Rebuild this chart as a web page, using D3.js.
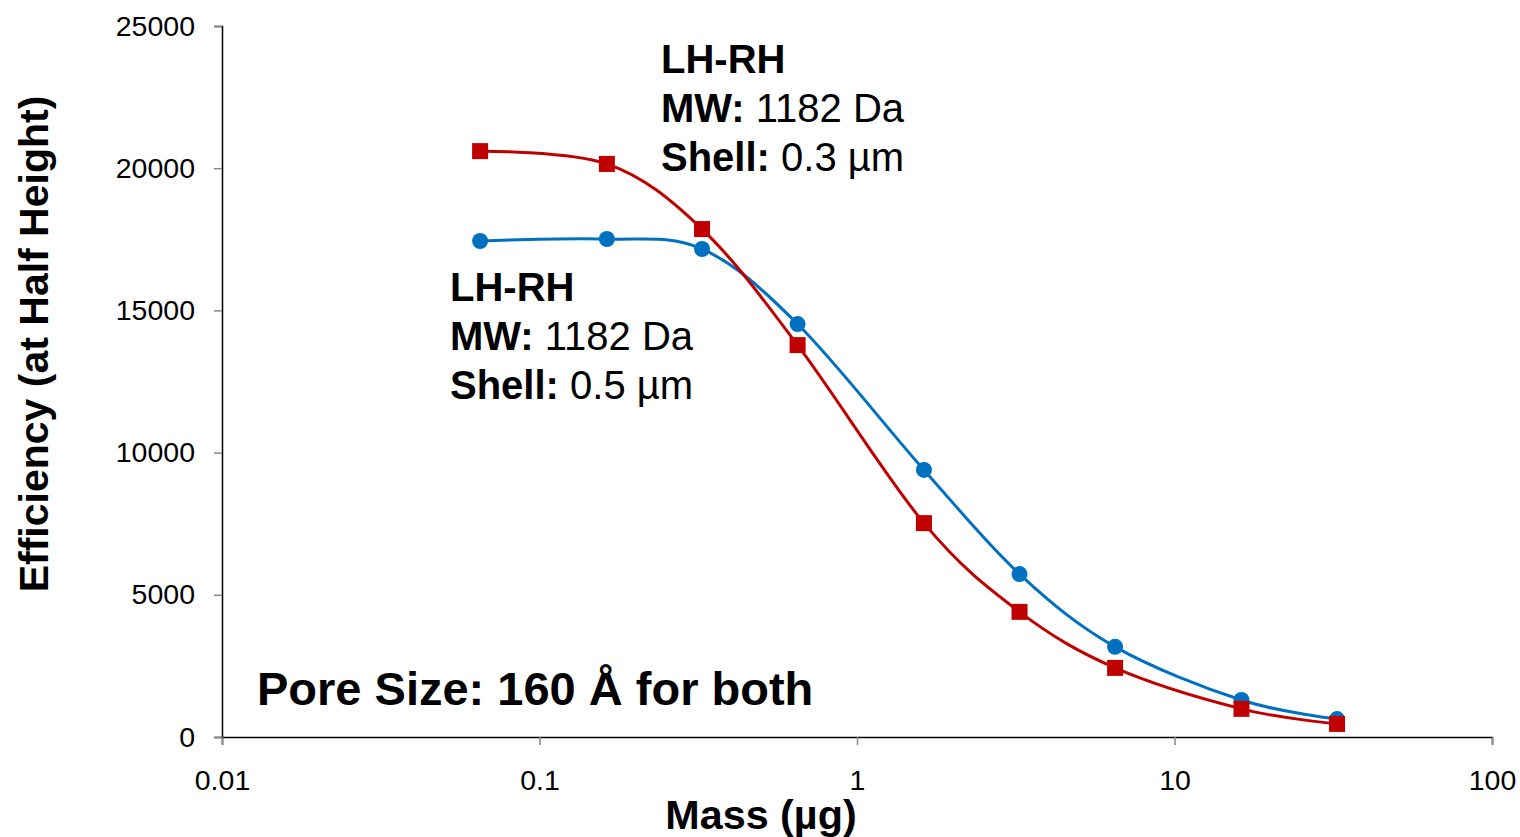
<!DOCTYPE html>
<html lang="en">
<head>
<meta charset="UTF-8">
<title>Efficiency vs Mass</title>
<script src="https://d3js.org/d3.v7.min.js"></script>
<style>
  body { margin: 0; background: #fff; }
  svg text { font-family: "Liberation Sans", Arial, sans-serif; }
</style>
</head>
<body>
<svg width="1520" height="837"></svg>
<script>
// data
const mass = [0.065, 0.163, 0.325, 0.65, 1.625, 3.25, 6.5, 16.25, 32.5];
const shell05 = [17440, 17510, 17160, 14520, 9390, 5730, 3170, 1300, 630];
const shell03 = [20600, 20150, 17860, 13780, 7520, 4400, 2430, 990, 460];
const xTicks = [0.01, 0.1, 1, 10, 100];
const yTicks = [0, 5000, 10000, 15000, 20000, 25000];

const svg = d3.select("svg");
const x = d3.scaleLog().domain([0.01, 100]).range([222, 1492]);
const y = d3.scaleLinear().domain([0, 25000]).range([737, 26]);

// axes
const yAxis = svg.append("g").attr("transform", "translate(222,0)")
  .call(d3.axisLeft(y).tickValues(yTicks).tickSize(8).tickFormat(d3.format("d")));
yAxis.select(".domain").attr("stroke", "#000").attr("stroke-width", 1.5);
yAxis.selectAll(".tick line").attr("stroke", "#888").attr("stroke-width", 1.5);
yAxis.selectAll(".tick text").attr("x", -27).attr("font-size", 28.5).attr("fill", "#000")
  .attr("font-family", "Liberation Sans, Arial, sans-serif");

const xAxis = svg.append("g").attr("transform", "translate(0,737)")
  .call(d3.axisBottom(x).tickValues(xTicks).tickSize(8).tickFormat(d => d3.format("~g")(d)));
xAxis.select(".domain").attr("stroke", "#000").attr("stroke-width", 1.5);
xAxis.selectAll(".tick line").attr("stroke", "#888").attr("stroke-width", 1.5);
xAxis.selectAll(".tick text").attr("font-size", 28.5).attr("fill", "#000")
  .attr("font-family", "Liberation Sans, Arial, sans-serif")
  .attr("y", 0).attr("dy", null).attr("transform", "translate(0,53)");

// lines
const line = vals => d3.line()
  .x((d, i) => x(mass[i]))
  .y(d => y(d))
  .curve(d3.curveCardinal.tension(0))(vals);

svg.append("path").attr("d", line(shell05)).attr("fill", "none")
  .attr("stroke", "#0070C0").attr("stroke-width", 3);
svg.append("path").attr("d", line(shell03)).attr("fill", "none")
  .attr("stroke", "#C00000").attr("stroke-width", 3);

svg.append("g").selectAll("circle").data(shell05).join("circle")
  .attr("cx", (d, i) => x(mass[i])).attr("cy", d => y(d)).attr("r", 8)
  .attr("fill", "#0070C0");
svg.append("g").selectAll("rect").data(shell03).join("rect")
  .attr("x", (d, i) => x(mass[i]) - 8).attr("y", d => y(d) - 8)
  .attr("width", 16).attr("height", 16).attr("fill", "#C00000");

// annotations
function label(xp, yp, shell) {
  const g = svg.append("g").attr("font-size", 40).attr("fill", "#000");
  g.append("text").attr("x", xp).attr("y", yp).attr("font-weight", "bold").text("LH-RH");
  const t1 = g.append("text").attr("x", xp).attr("y", yp + 49);
  t1.append("tspan").attr("font-weight", "bold").text("MW:");
  t1.append("tspan").text(" 1182 Da");
  const t2 = g.append("text").attr("x", xp).attr("y", yp + 98);
  t2.append("tspan").attr("font-weight", "bold").text("Shell:");
  t2.append("tspan").text(" " + shell);
}
label(661, 73, "0.3 µm");
label(450, 301, "0.5 µm");

svg.append("text").attr("x", 257).attr("y", 705).attr("font-size", 47)
  .attr("font-weight", "bold").text("Pore Size: 160 Å for both");

// axis titles
svg.append("text").attr("x", 761).attr("y", 829).attr("text-anchor", "middle")
  .attr("font-size", 41.3).attr("font-weight", "bold").text("Mass (µg)");
svg.append("text").attr("transform", "translate(48,344) rotate(-90)")
  .attr("text-anchor", "middle").attr("font-size", 41).attr("font-weight", "bold")
  .text("Efficiency (at Half Height)");
</script>
</body>
</html>
